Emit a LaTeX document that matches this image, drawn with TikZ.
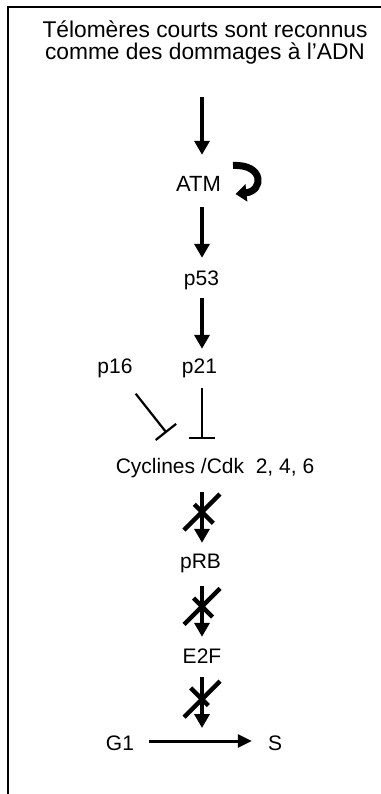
\documentclass[tikz,border=0pt]{standalone}
\usepackage{fontspec}
\setmainfont{Liberation Sans}
\usetikzlibrary{arrows.meta,calc,shapes.misc}
\begin{document}
\begin{tikzpicture}[x=1pt,y=-1pt,
  lbl/.style={inner sep=0pt, anchor=base, font=\fontsize{21}{22}\selectfont, text height=15.5pt, text depth=4.5pt},
  titlebox/.style={inner sep=0pt, align=center, font=\fontsize{22.75}{22}\selectfont},
  arr/.style={line width=3.5pt, -{Triangle[width=15pt,length=14pt]}},
  harr/.style={line width=3pt, -{Triangle[width=13pt,length=14pt]}},
  inh/.style={line width=2.2pt, -{Bar[width=26pt,line width=2.2pt]}},
  loopy/.style={line width=7pt, -{Triangle[width=17pt,length=11pt]}},
  xmark/.style={cross out, draw, line width=4.5pt, minimum width=36pt, minimum height=36pt, inner sep=0pt, outer sep=0pt},
  frameline/.style={line width=2pt, line cap=rect}]
\useasboundingbox (0,0) rectangle (380,794);
% frame (top and left sides only)
\draw[frameline] (380,7) -- (8,7) -- (8,794);
% axis
\coordinate (ax) at (202,0);
% nodes
\node[titlebox, anchor=south] (title) at (205,64.3) {Télomères courts sont reconnus\\comme des dommages à l’ADN};
\node[lbl, font=\fontsize{22}{24}\selectfont] (atm) at (198.5,192) {ATM};
\node[lbl] (p53) at (201.5,285) {p53};
\node[lbl] (p21) at (199.5,373) {p21};
\node[lbl] (p16) at (115,373) {p16};
\node[lbl] (cyc) at (215,473) {Cyclines /Cdk\ \ 2, 4, 6};
\node[lbl] (prb) at (200.5,568) {pRB};
\node[lbl] (e2f) at (202,663) {E2F};
\node[lbl] (g1) at (120,750) {G1};
\node[lbl] (s) at (275,750) {S};
\coordinate (gs) at (ax |- g1);
% activations
\draw[arr, shorten <=32.7pt, shorten >=21.5pt] (title.south -| ax) -- (atm.north -| ax);
\draw[arr, shorten <=10.5pt, shorten >=11.5pt] (atm.south -| ax) -- (p53.north -| ax);
\draw[arr, shorten <=8.5pt, shorten >=8.5pt] (p53.south -| ax) -- (p21.north -| ax);
% ATM self loop
\draw[loopy] ([shift={(34.5,-26.5)}]atm.base) .. controls ([shift={(66,-28)}]atm.base) and ([shift={(65,-1)}]atm.base) .. ([shift={(37,2)}]atm.base);
% inhibitions
\draw[inh, shorten <=10.5pt, shorten >=18.5pt] (p21.south -| ax) -- (cyc.north -| ax);
\draw[inh, shorten <=20.4pt] (p16) -- ($(cyc.north west)+(51,-24.5)$);
% blocked steps
\draw[arr, shorten <=14.5pt, shorten >=9.5pt] (cyc.south -| ax) -- node[xmark, pos=0.46]{} (prb.north -| ax);
\draw[arr, shorten <=13.5pt, shorten >=10.5pt] (prb.south -| ax) -- node[xmark, pos=0.453]{} (e2f.north -| ax);
\draw[arr, shorten <=9.5pt, shorten >=16.5pt] (e2f.south -| ax) -- node[xmark, pos=0.41]{} (gs);
% G1 -> S
\draw[harr, shorten <=15pt, shorten >=16pt] ([yshift=3.5pt]g1.east) -- ([yshift=3.5pt]s.west);
\end{tikzpicture}
\end{document}
